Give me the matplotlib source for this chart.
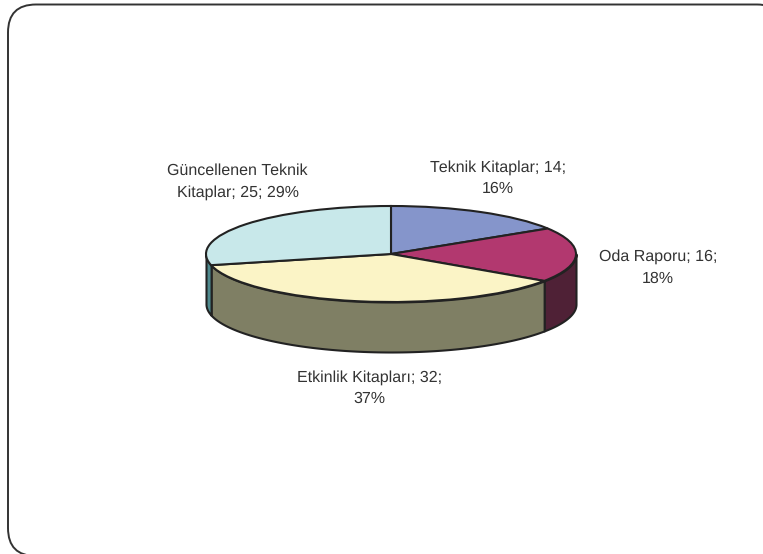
import matplotlib
matplotlib.use("Agg")
import matplotlib.pyplot as plt
import numpy as np
from matplotlib.patches import FancyBboxPatch

plt.rcParams["font.family"] = ["Liberation Sans", "DejaVu Sans"]
plt.rcParams["text.hinting"] = "no_hinting"
plt.rcParams["text.hinting_factor"] = 1

# chart values
labels = [
    "Teknik Kitaplar; 14;\n16%",
    "Oda Raporu; 16;\n18%",
    "Etkinlik Kitapları; 32;\n37%",
    "Güncellenen Teknik\nKitaplar; 25; 29%",
]
values = [14, 16, 32, 25]
top_colors = ["#8595CB", "#B2386F", "#FBF4C6", "#C8E8EA"]
side_colors = ["#434B66", "#4F2136", "#7F7F64", "#4F8A8E"]

W, H = 763, 554
CX, CY, RX, RY, DEPTH = 391, 254, 185, 48, 50
EDGE = "#222222"

fig = plt.figure(figsize=(W / 100, H / 100), dpi=100, facecolor="white")

# axes in units of the pie radius, so the circle gets squashed to an ellipse
ax = fig.add_axes([0, 0, 1, 1])


def fig_x(px):
    return px / W


def fig_y(py):
    return 1 - py / H


# slide frame, runs off the right and bottom of the picture
left, right, bottom, top = 8, 785, -2, 549.5
radius = 28
frame = FancyBboxPatch(
    (left + radius, bottom + radius),
    right - left - 2 * radius, top - bottom - 2 * radius,
    boxstyle=f"round,pad={radius},rounding_size={radius}",
    transform=None, facecolor="white", edgecolor="#333333", linewidth=1.4,
    zorder=0,
)
fig.add_artist(frame)

wedges, _ = ax.pie(
    values, startangle=90, counterclock=False, radius=1,
    colors=top_colors,
    wedgeprops={"edgecolor": EDGE, "linewidth": 1.5, "zorder": 3},
)
ax.set_aspect("auto")
ax.set_xlim((0 - CX) / RX, (W - CX) / RX)
ax.set_ylim((CY - H) / RY, CY / RY)
ax.patch.set_alpha(0)

# side wall, only the front half shows
depth = DEPTH / RY
bounds = np.cumsum([0] + values) / sum(values) * 360
for start, stop, color in zip(bounds[:-1], bounds[1:], side_colors):
    a = max(start, 90)
    b = min(stop, 270)
    if b <= a:
        continue
    t = np.radians(np.linspace(a, b, 120))
    xs = np.sin(t)
    ys = np.cos(t)
    ax.fill_between(xs, ys, ys - depth, facecolor=color, edgecolor=EDGE,
                    linewidth=1.5, zorder=2)

label_pos = [(498, 178), (658, 267.5), (369.5, 388), (237.5, 181.5)]
for text, (px, py) in zip(labels, label_pos):
    fig.text(fig_x(px), fig_y(py), text, ha="center", va="center",
             fontsize=11.25, color="#333333", linespacing=1.6)

fig.savefig("out.png", dpi=100)
